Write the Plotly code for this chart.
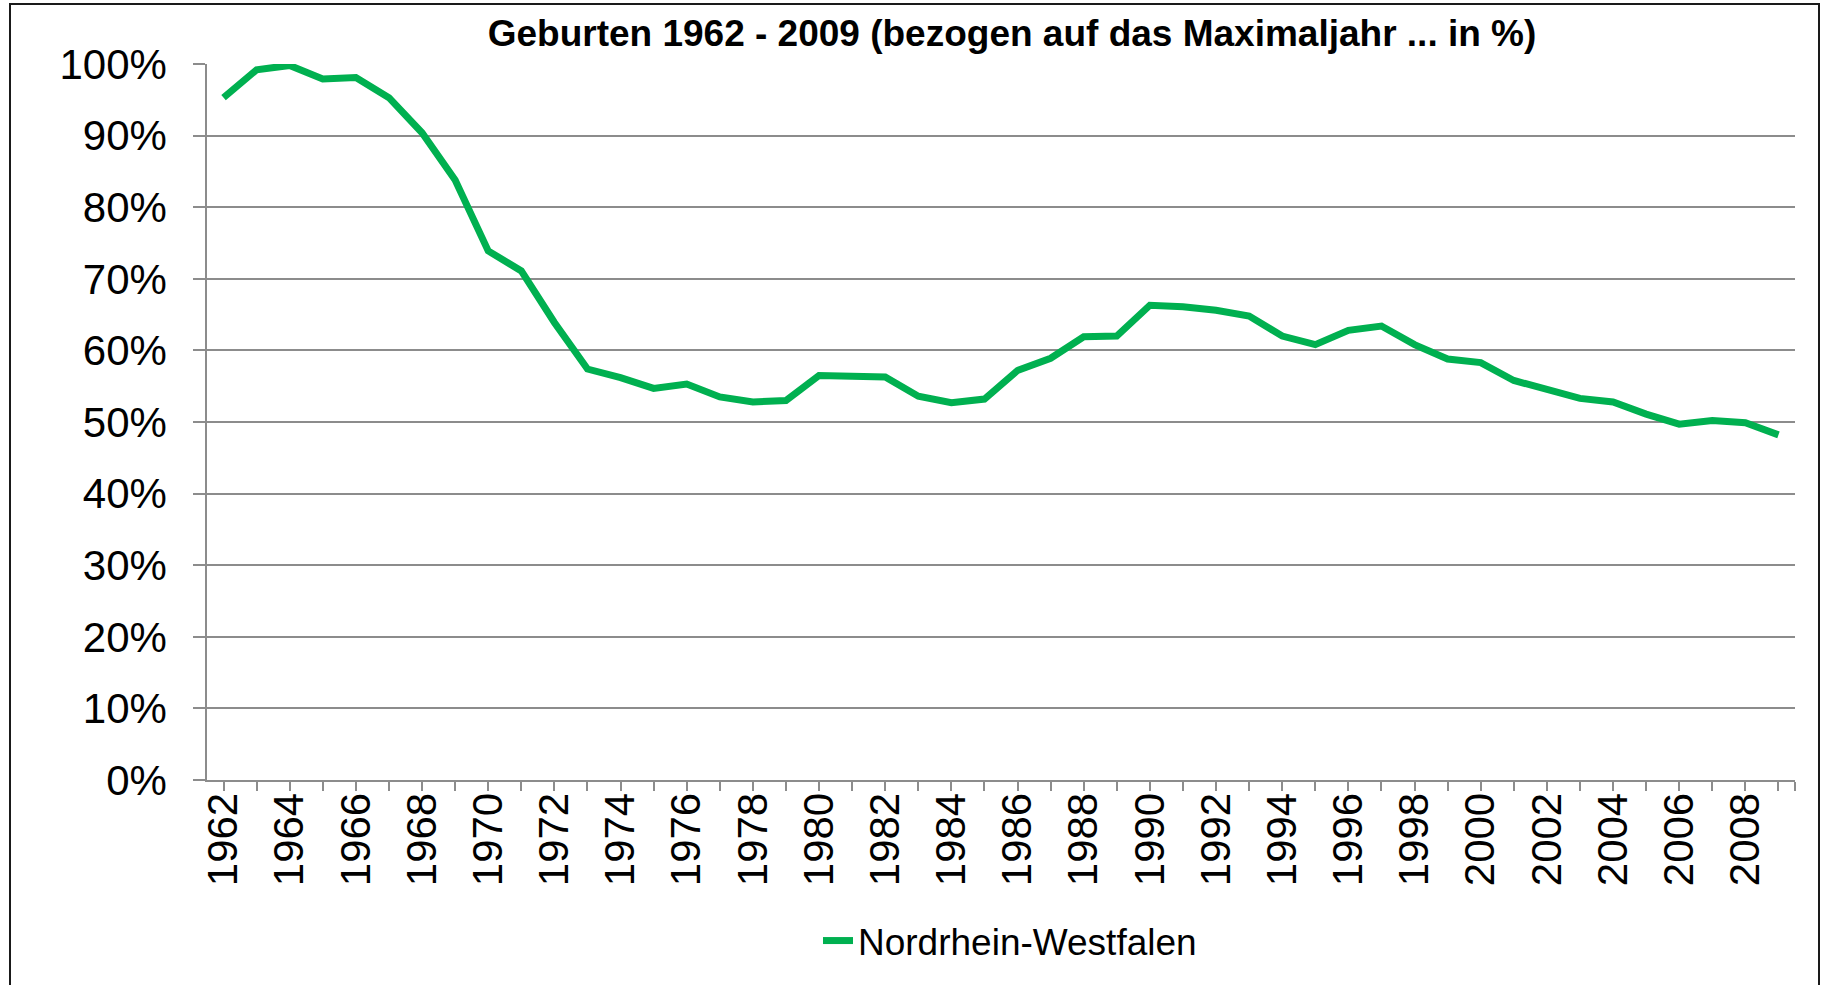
import plotly.graph_objects as go

years = list(range(1962, 2010))
values = [95.3, 99.2, 99.8, 97.9, 98.1, 95.3, 90.4, 83.8, 73.9, 71.1,
          63.9, 57.4, 56.2, 54.7, 55.3, 53.5, 52.8, 53.0, 56.5, 56.4,
          56.3, 53.6, 52.7, 53.2, 57.2, 58.9, 61.9, 62.0, 66.3, 66.1,
          65.6, 64.8, 62.0, 60.8, 62.8, 63.4, 60.8, 58.8, 58.3, 55.8,
          54.6, 53.3, 52.8, 51.1, 49.7, 50.2, 49.9, 48.2]
series_name = "Nordrhein-Westfalen"
title_text = "Geburten 1962 - 2009 (bezogen auf das Maximaljahr ... in %)"
y_ticks = [0, 10, 20, 30, 40, 50, 60, 70, 80, 90, 100]
y_labels = [f"{v}%" for v in y_ticks]
x_ticks = years + [2009.5]
x_labels = [str(y) if (y - 1962) % 2 == 0 else "" for y in years] + [""]

W, H = 1829, 985
L, R, T, B = 207, 1795, 64, 780

GREEN = "#00B050"
GRID = "#8C8C8C"
FONT = "Liberation Sans, Arial, sans-serif"

fig = go.Figure()
fig.add_trace(go.Scatter(
    x=years, y=values, mode="lines", name=series_name,
    line=dict(color=GREEN, width=7),
))

def px_x(p):
    return (p - L) / (R - L)

def px_y(p):
    return (B - p) / (B - T)

fig.update_layout(
    width=W, height=H,
    margin=dict(l=L, r=W - R, t=T, b=H - B),
    paper_bgcolor="white", plot_bgcolor="white",
    font=dict(family=FONT, color="black"),
    title=dict(text="<b>" + title_text + "</b>", font=dict(size=37, family=FONT, color="black"),
               x=1012 / W, xanchor="center", xref="container",
               y=1 - 33 / H, yanchor="middle", yref="container"),
    showlegend=True,
    legend=dict(orientation="h", x=px_x(818), xanchor="left",
                y=px_y(941), yanchor="middle",
                font=dict(size=37, family=FONT, color="black"),
                bgcolor="rgba(0,0,0,0)"),
    xaxis=dict(range=[1961.5, 2009.5], tickmode="array", tickvals=x_ticks, ticktext=x_labels,
               tickangle=-90, tickfont=dict(size=42, family=FONT, color="black"),
               showgrid=False, zeroline=False, showline=True, linecolor=GRID, linewidth=2,
               ticks="outside", ticklen=9, tickwidth=1.5, tickcolor=GRID,
               ticklabelstandoff=-15),
    yaxis=dict(range=[0, 100], tickmode="array", tickvals=y_ticks, ticktext=y_labels,
               tickfont=dict(size=42, family=FONT, color="black"),
               showgrid=True, gridcolor=GRID, gridwidth=2, zeroline=False,
               showline=True, linecolor=GRID, linewidth=1.5,
               ticks="outside", ticklen=12, tickwidth=2, tickcolor=GRID,
               ticklabelstandoff=18),
    shapes=[dict(type="rect", xref="paper", yref="paper",
                 x0=px_x(10), x1=px_x(1819), y0=px_y(1010), y1=px_y(4),
                 line=dict(color="#1a1a1a", width=2), fillcolor="rgba(0,0,0,0)", layer="below")],
)

fig.write_html("out.html",
               config={"displayModeBar": False},
               post_script="document.body.style.margin='0';document.body.style.overflow='hidden';")
